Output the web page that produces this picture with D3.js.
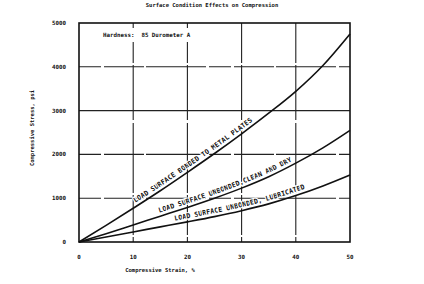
<!DOCTYPE html>
<html>
<head>
<script src="https://d3js.org/d3.v7.min.js"></script>
<style>
  body { margin: 0; background: #fff; }
  text { font-family: "DejaVu Sans Mono", monospace; font-weight: bold; fill: #111; }
</style>
</head>
<body>
<svg id="chart" width="424" height="284"></svg>
<script>
// strain (%) at which each curve was read
var strain = [0, 5, 10, 15, 20, 25, 30, 35, 40, 45, 50];
// compressive stress (psi) for each surface condition
var bonded     = [0, 380, 770, 1170, 1590, 2020, 2470, 2940, 3440, 4030, 4750];
var cleanDry   = [0, 190, 390, 590, 790, 1000, 1230, 1490, 1800, 2150, 2550];
var lubricated = [0, 115, 230, 345, 460, 580, 715, 870, 1060, 1280, 1530];
var seriesNames = ["LOAD SURFACE BONDED TO METAL PLATES",
                   "LOAD SURFACE UNBONDED,CLEAN AND DRY",
                   "LOAD SURFACE UNBONDED, LUBRICATED"];
var xTicks = [0, 10, 20, 30, 40, 50];
var yTicks = [0, 1000, 2000, 3000, 4000, 5000];

var svg = d3.select("#chart");
var x = d3.scaleLinear().domain([0, 50]).range([79, 350]);
var y = d3.scaleLinear().domain([0, 5000]).range([242, 23]);

// title
svg.append("text").attr("x", 212).attr("y", 7).attr("text-anchor", "middle")
  .attr("font-size", 5.5).text("Surface Condition Effects on Compression");

// grid
var g = svg.append("g").attr("stroke", "#222").attr("stroke-width", 1.1);
g.selectAll(".hg").data(yTicks.slice(1, 5)).enter().append("line")
  .attr("x1", x(0)).attr("x2", x(50))
  .attr("y1", d => y(d)).attr("y2", d => y(d))
  .attr("stroke-dasharray", d => d == 3000 ? null : "22,3,40,2,60,3");
g.selectAll(".vg").data(xTicks.slice(1, 5)).enter().append("line")
  .attr("x1", d => x(d)).attr("x2", d => x(d))
  .attr("y1", y(5000)).attr("y2", y(0))
  .attr("stroke-dasharray", "40,2,55,3,70,2");

// hardness note with white backing (breaks the grid like the original)
svg.append("rect").attr("x", 98).attr("y", 28).attr("width", 118).attr("height", 14).attr("fill", "#fff");
svg.append("text").attr("x", 103).attr("y", 37).attr("font-size", 5.8)
  .attr("xml:space", "preserve").text("Hardness:  85 Durometer A");

// frame
svg.append("rect").attr("x", x(0)).attr("y", y(5000))
  .attr("width", x(50) - x(0)).attr("height", y(0) - y(5000))
  .attr("fill", "none").attr("stroke", "#111").attr("stroke-width", 1.6);

// axis tick labels
svg.selectAll(".yl").data(yTicks).enter().append("text")
  .attr("x", 66).attr("y", d => y(d) + 2).attr("text-anchor", "end")
  .attr("font-size", 5.8).text(d => d);
svg.selectAll(".xl").data(xTicks).enter().append("text")
  .attr("x", d => x(d)).attr("y", 259).attr("text-anchor", "middle")
  .attr("font-size", 5.8).text(d => d);

svg.append("text").attr("x", 160).attr("y", 272).attr("text-anchor", "middle")
  .attr("font-size", 5.5).text("Compressive Strain, %");
svg.append("text").attr("transform", "translate(34,128) rotate(-90)")
  .attr("text-anchor", "middle").attr("font-size", 5.5).text("Compressive Stress, psi");

// curves
var line = d3.line().x((d, i) => x(strain[i])).y(d => y(d)).curve(d3.curveMonotoneX);
var curves = [bonded, cleanDry, lubricated];
var offsets = ["20%", "29%", "35%"];
svg.selectAll(".curve").data(curves).enter().append("path")
  .attr("id", (d, i) => "c" + i)
  .attr("d", line).attr("fill", "none")
  .attr("stroke", "#111").attr("stroke-width", 1.6);

// curve labels, white halo breaks the grid behind them
svg.selectAll(".lbl").data(seriesNames).enter().append("text")
  .attr("font-size", 6.8).attr("dy", -3.5)
  .attr("stroke", "#fff").attr("stroke-width", 2.2).attr("paint-order", "stroke")
  .append("textPath").attr("href", (d, i) => "#c" + i)
  .attr("startOffset", (d, i) => offsets[i])
  .text(d => d);
</script>
</body>
</html>
